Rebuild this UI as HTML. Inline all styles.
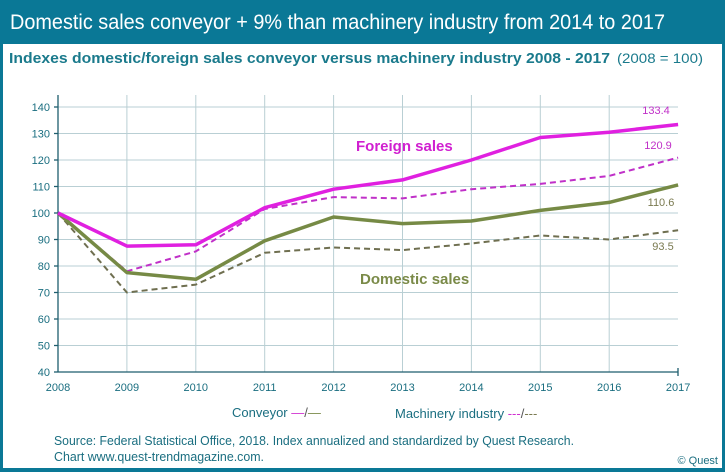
<!DOCTYPE html>
<html><head><meta charset="utf-8"><style>
html,body{margin:0;padding:0;}
body{width:725px;height:472px;overflow:hidden;background:#0a7896;font-family:"Liberation Sans",sans-serif;}
</style></head><body>
<svg width="725" height="472" xmlns="http://www.w3.org/2000/svg" style="display:block">
<rect x="0" y="0" width="725" height="472" fill="#0a7896"/>
<rect x="3" y="44" width="719" height="424" fill="#ffffff"/>
<text x="10" y="29" font-size="21" fill="#ffffff" font-family="Liberation Sans, sans-serif" textLength="655" lengthAdjust="spacingAndGlyphs">Domestic sales conveyor + 9% than machinery industry from 2014 to 2017</text>
<text x="9" y="63" font-size="15" font-weight="bold" fill="#1a7a8c" textLength="601" lengthAdjust="spacingAndGlyphs">Indexes domestic/foreign sales conveyor versus machinery industry 2008 - 2017</text>
<text x="617" y="63" font-size="14" fill="#1a7a8c" textLength="86" lengthAdjust="spacingAndGlyphs">(2008 = 100)</text>
<g stroke="#b9cfd4" stroke-width="1">
<line x1="58" y1="107" x2="678" y2="107"/><line x1="58" y1="133.5" x2="678" y2="133.5"/><line x1="58" y1="160" x2="678" y2="160"/><line x1="58" y1="186.5" x2="678" y2="186.5"/><line x1="58" y1="213" x2="678" y2="213"/><line x1="58" y1="239.5" x2="678" y2="239.5"/><line x1="58" y1="266" x2="678" y2="266"/><line x1="58" y1="292.5" x2="678" y2="292.5"/><line x1="58" y1="319" x2="678" y2="319"/><line x1="58" y1="345.5" x2="678" y2="345.5"/>
<line x1="126.9" y1="95" x2="126.9" y2="372"/><line x1="195.8" y1="95" x2="195.8" y2="372"/><line x1="264.7" y1="95" x2="264.7" y2="372"/><line x1="333.6" y1="95" x2="333.6" y2="372"/><line x1="402.5" y1="95" x2="402.5" y2="372"/><line x1="471.4" y1="95" x2="471.4" y2="372"/><line x1="540.3" y1="95" x2="540.3" y2="372"/><line x1="609.2" y1="95" x2="609.2" y2="372"/>
</g>
<g stroke="#1e5e6e" stroke-width="1.3">
<line x1="58" y1="95" x2="58" y2="372"/><line x1="58" y1="372" x2="678" y2="372"/>
<line x1="54" y1="107" x2="58" y2="107"/><line x1="54" y1="133.5" x2="58" y2="133.5"/><line x1="54" y1="160" x2="58" y2="160"/><line x1="54" y1="186.5" x2="58" y2="186.5"/><line x1="54" y1="213" x2="58" y2="213"/><line x1="54" y1="239.5" x2="58" y2="239.5"/><line x1="54" y1="266" x2="58" y2="266"/><line x1="54" y1="292.5" x2="58" y2="292.5"/><line x1="54" y1="319" x2="58" y2="319"/><line x1="54" y1="345.5" x2="58" y2="345.5"/><line x1="54" y1="372" x2="58" y2="372"/>
<line x1="678" y1="368" x2="678" y2="376"/>
</g>
<g font-size="11" fill="#1a6e80" text-anchor="end">
<text x="50" y="111">140</text><text x="50" y="137.5">130</text><text x="50" y="164">120</text><text x="50" y="190.5">110</text><text x="50" y="217">100</text><text x="50" y="243.5">90</text><text x="50" y="270">80</text><text x="50" y="296.5">70</text><text x="50" y="323">60</text><text x="50" y="349.5">50</text><text x="50" y="376">40</text>
</g>
<g font-size="11" fill="#1a6e80" text-anchor="middle">
<text x="58" y="391">2008</text><text x="126.9" y="391">2009</text><text x="195.8" y="391">2010</text><text x="264.7" y="391">2011</text><text x="333.6" y="391">2012</text><text x="402.5" y="391">2013</text><text x="471.4" y="391">2014</text><text x="540.3" y="391">2015</text><text x="609.2" y="391">2016</text><text x="678.1" y="391">2017</text>
</g>
<g fill="none" stroke-linejoin="round">
<polyline stroke="#6f6f50" stroke-width="2" stroke-dasharray="6,4" points="58,213 126.9,292.5 195.8,284.6 264.7,252.8 333.6,247.5 402.5,250.1 471.4,243.5 540.3,235.5 609.2,239.5 678.1,230.2"/>
<polyline stroke="#c030c8" stroke-width="2" stroke-dasharray="6,4" points="58,213 126.9,271.3 195.8,251.4 264.7,209 333.6,197.1 402.5,198.4 471.4,189.2 540.3,183.9 609.2,175.9 678.1,157.6"/>
<polyline stroke="#768a45" stroke-width="3.5" points="58,213 126.9,272.6 195.8,279.3 264.7,240.8 333.6,217 402.5,223.6 471.4,221 540.3,210.4 609.2,202.4 678.1,184.9"/>
<polyline stroke="#e020e0" stroke-width="3.5" points="58,213 126.9,246.1 195.8,244.8 264.7,207.7 333.6,189.2 402.5,179.9 471.4,160 540.3,137.5 609.2,132.2 678.1,124.5"/>
</g>
<text x="356" y="151" font-size="15" font-weight="bold" fill="#d020d0">Foreign sales</text>
<text x="360" y="284" font-size="15" font-weight="bold" fill="#7a8a48">Domestic sales</text>
<g font-size="11" text-anchor="middle">
<text x="656" y="114" fill="#c030c8">133.4</text>
<text x="658" y="149" fill="#c030c8">120.9</text>
<text x="661" y="206" fill="#7a7a50">110.6</text>
<text x="663" y="250" fill="#7a7a50">93.5</text>
</g>
<text x="232" y="417" font-size="13" fill="#1a6e80">Conveyor <tspan fill="#d030d0">—</tspan><tspan fill="#555">/</tspan><tspan fill="#7a8a48">—</tspan></text>
<text x="395" y="418" font-size="13" fill="#1a6e80">Machinery industry <tspan fill="#d030d0">---</tspan><tspan fill="#555">/</tspan><tspan fill="#7a7a50">---</tspan></text>
<text x="54" y="445" font-size="13" fill="#1a6e80" textLength="520" lengthAdjust="spacingAndGlyphs">Source: Federal Statistical Office, 2018. Index annualized and standardized by Quest Research.</text>
<text x="54" y="461" font-size="13" fill="#1a6e80" textLength="210" lengthAdjust="spacingAndGlyphs">Chart www.quest-trendmagazine.com.</text>
<text x="718" y="464" font-size="11" fill="#1a6e80" text-anchor="end">© Quest</text>
</svg>
</body></html>
